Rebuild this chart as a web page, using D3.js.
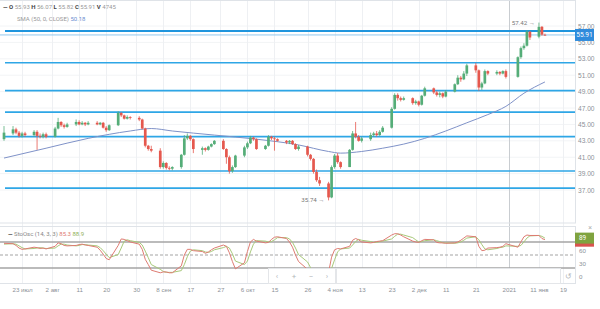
<!DOCTYPE html>
<html>
<head>
<meta charset="utf-8">
<script src="https://cdn.jsdelivr.net/npm/d3@7"></script>
<style>
  body { margin: 0; background: #fff; }
  svg { display: block; font-family: Roboto, "Noto Sans", sans-serif; }
  .price-axis text { fill: #8c9197; font-size: 6.6px; }
  .date-axis text { fill: #8c9197; font-size: 6.2px; }
  .stoch-axis text { fill: #8c9197; font-size: 6.2px; }
</style>
</head>
<body>
<svg id="chart" width="600" height="309"></svg>
<script>
// daily candles: date, open, high, low, close
var candles = [
  ["2020-07-17", 43.2, 44.8, 43.0, 44.0], ["2020-07-20", 43.9, 44.8, 43.7, 44.4], ["2020-07-21", 44.4, 44.6, 43.8, 44.0],
  ["2020-07-22", 44.0, 44.2, 43.4, 43.6], ["2020-07-23", 43.6, 44.1, 43.4, 43.9], ["2020-07-24", 43.9, 44.1, 43.5, 43.7],
  ["2020-07-27", 43.7, 44.3, 43.5, 44.1], ["2020-07-28", 44.1, 44.3, 41.9, 43.6], ["2020-07-29", 43.6, 43.9, 43.3, 43.5],
  ["2020-07-30", 43.5, 44.0, 43.3, 43.8], ["2020-07-31", 43.8, 44.0, 43.3, 43.5],
  ["2020-08-03", 43.5, 44.7, 43.4, 44.5], ["2020-08-04", 44.5, 45.8, 44.4, 45.3], ["2020-08-05", 45.3, 45.4, 44.7, 44.9],
  ["2020-08-06", 44.9, 45.1, 44.5, 44.7], ["2020-08-07", 44.7, 45.2, 44.6, 45.0], ["2020-08-10", 45.0, 45.6, 44.8, 45.3],
  ["2020-08-11", 45.3, 45.5, 44.9, 45.0], ["2020-08-12", 45.0, 45.4, 44.9, 45.2], ["2020-08-13", 45.2, 45.3, 44.8, 45.0],
  ["2020-08-14", 45.0, 45.4, 44.9, 45.2], ["2020-08-17", 45.2, 45.4, 44.9, 45.0], ["2020-08-18", 45.0, 45.3, 44.9, 45.2],
  ["2020-08-19", 45.2, 45.3, 44.5, 44.6], ["2020-08-20", 44.6, 44.8, 44.1, 44.3], ["2020-08-21", 44.3, 45.0, 44.2, 44.9],
  ["2020-08-24", 44.9, 46.6, 44.8, 46.4], ["2020-08-25", 46.4, 46.5, 45.9, 46.1], ["2020-08-26", 46.1, 46.2, 45.6, 45.7],
  ["2020-08-27", 45.7, 46.1, 45.6, 45.9], ["2020-08-28", 45.9, 46.0, 45.6, 45.8], ["2020-08-31", 45.8, 46.0, 45.4, 45.6],
  ["2020-09-01", 45.6, 45.7, 44.4, 44.5], ["2020-09-02", 44.5, 44.6, 42.2, 42.4], ["2020-09-03", 42.4, 42.5, 41.8, 42.0],
  ["2020-09-04", 42.0, 42.4, 41.6, 41.8], ["2020-09-07", 41.8, 42.1, 39.6, 39.8], ["2020-09-08", 39.8, 40.5, 39.6, 40.3],
  ["2020-09-09", 40.3, 40.4, 39.5, 39.7], ["2020-09-10", 39.7, 39.9, 39.4, 39.6], ["2020-09-11", 39.6, 39.9, 39.4, 39.8],
  ["2020-09-14", 39.8, 41.4, 39.6, 41.3], ["2020-09-15", 41.3, 43.7, 41.2, 43.3], ["2020-09-16", 43.3, 43.9, 43.1, 43.6],
  ["2020-09-17", 43.6, 43.7, 43.0, 43.2], ["2020-09-18", 43.2, 43.3, 41.5, 42.0], ["2020-09-21", 41.9, 42.3, 41.3, 42.1],
  ["2020-09-22", 42.1, 42.2, 41.7, 41.9], ["2020-09-23", 41.9, 42.4, 41.8, 42.3], ["2020-09-24", 42.3, 42.7, 42.2, 42.6],
  ["2020-09-25", 42.6, 43.1, 42.5, 43.0], ["2020-09-28", 43.0, 43.2, 41.9, 42.0], ["2020-09-29", 42.0, 42.1, 40.2, 41.0],
  ["2020-09-30", 41.0, 41.2, 39.0, 39.3],
  ["2020-10-01", 39.3, 40.0, 39.1, 39.8], ["2020-10-02", 39.8, 41.3, 39.7, 41.2], ["2020-10-05", 41.2, 42.4, 41.0, 42.2],
  ["2020-10-06", 42.2, 42.9, 42.0, 42.7], ["2020-10-07", 42.7, 43.6, 42.6, 43.4], ["2020-10-08", 43.4, 43.5, 43.0, 43.2],
  ["2020-10-09", 43.2, 43.3, 41.9, 42.0], ["2020-10-12", 42.0, 42.5, 41.9, 42.4], ["2020-10-13", 42.4, 43.7, 42.3, 43.5],
  ["2020-10-14", 43.5, 43.6, 43.1, 43.3], ["2020-10-15", 43.3, 43.5, 41.8, 43.2], ["2020-10-16", 43.2, 43.3, 42.9, 43.0],
  ["2020-10-19", 43.0, 43.1, 42.6, 42.8], ["2020-10-20", 42.8, 43.1, 42.6, 43.0], ["2020-10-21", 43.0, 43.1, 42.5, 42.6],
  ["2020-10-22", 42.6, 42.7, 41.9, 42.0], ["2020-10-23", 42.0, 42.5, 41.8, 42.3], ["2020-10-26", 42.3, 42.4, 41.1, 41.3],
  ["2020-10-27", 41.3, 41.4, 40.6, 40.8], ["2020-10-28", 40.8, 40.9, 39.0, 39.2], ["2020-10-29", 39.2, 39.5, 38.0, 38.2],
  ["2020-10-30", 38.2, 38.6, 37.5, 37.8],
  ["2020-11-02", 37.8, 38.0, 35.74, 36.1], ["2020-11-03", 36.1, 40.0, 36.0, 39.8], ["2020-11-04", 39.8, 41.4, 39.6, 41.2],
  ["2020-11-05", 41.2, 41.5, 40.2, 40.4], ["2020-11-06", 40.4, 40.5, 39.6, 39.8], ["2020-11-09", 39.8, 42.0, 39.8, 41.9],
  ["2020-11-10", 41.9, 44.2, 41.8, 43.9], ["2020-11-11", 43.9, 45.3, 43.3, 43.5], ["2020-11-12", 43.5, 43.7, 42.9, 43.0],
  ["2020-11-13", 43.0, 43.5, 42.8, 43.3], ["2020-11-16", 43.2, 44.0, 43.0, 43.7], ["2020-11-17", 43.7, 44.1, 43.5, 43.9],
  ["2020-11-18", 43.9, 44.2, 43.5, 43.7], ["2020-11-19", 43.7, 44.3, 43.6, 44.1], ["2020-11-20", 44.1, 44.8, 44.0, 44.6],
  ["2020-11-23", 44.6, 47.1, 44.5, 46.9], ["2020-11-24", 46.9, 48.8, 46.8, 48.6], ["2020-11-25", 48.6, 48.8, 47.9, 48.2],
  ["2020-11-26", 48.2, 48.4, 47.8, 48.0], ["2020-11-27", 48.0, 48.4, 47.9, 48.2], ["2020-11-30", 48.2, 48.3, 47.4, 47.6],
  ["2020-12-01", 47.6, 48.0, 47.4, 47.8], ["2020-12-02", 47.8, 47.9, 47.2, 47.4], ["2020-12-03", 47.4, 48.6, 47.3, 48.5],
  ["2020-12-04", 48.5, 49.6, 48.4, 49.4], ["2020-12-07", 49.4, 49.5, 48.7, 48.9], ["2020-12-08", 48.9, 49.1, 48.4, 48.6],
  ["2020-12-09", 48.6, 49.0, 48.3, 48.8], ["2020-12-10", 48.8, 48.9, 48.2, 48.4], ["2020-12-11", 48.4, 49.2, 48.3, 49.0],
  ["2020-12-14", 49.0, 50.0, 48.9, 49.9], ["2020-12-15", 49.9, 51.0, 49.8, 50.7], ["2020-12-16", 50.7, 50.9, 50.2, 50.5],
  ["2020-12-17", 50.5, 51.5, 50.4, 51.2], ["2020-12-18", 51.2, 52.4, 50.9, 52.2], ["2020-12-21", 52.2, 52.5, 51.3, 51.6],
  ["2020-12-22", 51.6, 51.7, 49.1, 49.5], ["2020-12-23", 49.5, 50.2, 49.2, 50.0], ["2020-12-24", 50.0, 51.7, 49.9, 51.5],
  ["2020-12-25", 51.5, 51.6, 51.0, 51.2], ["2020-12-28", 51.2, 51.6, 51.0, 51.4], ["2020-12-29", 51.4, 51.5, 51.0, 51.2],
  ["2020-12-30", 51.2, 51.6, 51.1, 51.5], ["2020-12-31", 51.5, 51.7, 50.6, 50.8],
  ["2021-01-04", 50.8, 53.3, 50.7, 53.2], ["2021-01-05", 53.2, 54.5, 53.0, 54.3], ["2021-01-06", 54.3, 54.9, 54.1, 54.6],
  ["2021-01-07", 54.6, 56.5, 54.5, 56.3], ["2021-01-08", 56.3, 56.4, 55.3, 55.6], ["2021-01-11", 55.7, 57.42, 55.5, 56.9],
  ["2021-01-12", 56.9, 57.0, 55.8, 55.95], ["2021-01-13", 55.93, 56.07, 55.82, 55.91]
];

// stochastic %K (red) and %D (green), one value per candle above
var stochK = [
  77, 76, 72, 66, 63, 64, 68, 67, 65, 66, 64,
  70, 78, 76, 72, 71, 72, 74, 75, 73, 72, 68, 61, 52, 42, 39, 72, 87, 86, 83, 80, 75,
  63, 40, 28, 15, 9, 11, 11, 9, 9, 25, 50, 63, 63, 60, 58, 54, 57, 62, 66, 73, 70, 55,
  35, 18, 32, 58, 80, 86, 82, 78, 79, 86, 91, 92, 88, 80, 68, 50, 35, 17, 10, 5, 3, 3,
  10, 45, 62, 65, 64, 70, 84, 88, 85, 80, 78, 79, 81, 82, 83, 96, 99, 99, 96, 92, 82,
  80, 79, 83, 86, 85, 79, 78, 78, 77, 78, 80, 84, 89, 94, 92, 70, 60, 61, 66, 67, 68, 70, 76,
  68, 80, 92, 96, 95, 95, 88, 85.3
];
var stochD = [
  75, 76, 75, 71, 67, 64, 65, 66, 67, 66, 65,
  66, 71, 75, 75, 73, 71, 72, 74, 74, 73, 71, 67, 60, 52, 44, 51, 66, 82, 85, 83, 79,
  73, 59, 44, 28, 17, 12, 10, 10, 10, 14, 28, 46, 59, 62, 60, 57, 56, 58, 62, 67, 70, 66,
  53, 36, 28, 36, 57, 75, 83, 82, 80, 81, 85, 90, 90, 87, 79, 66, 51, 34, 21, 11, 6, 4,
  5, 19, 39, 57, 64, 66, 73, 81, 86, 84, 81, 79, 79, 81, 82, 87, 93, 98, 98, 96, 90,
  85, 80, 81, 83, 85, 83, 81, 78, 78, 77, 78, 80, 84, 89, 92, 85, 74, 64, 62, 65, 67, 68, 71,
  70, 72, 80, 89, 94, 95, 93, 88.9
];

// SMA(50)
var smaPoints = [
  ["2020-07-17", 40.9], ["2020-07-31", 42.1], ["2020-08-14", 43.3], ["2020-08-28", 44.2], ["2020-09-04", 44.5],
  ["2020-09-11", 44.2], ["2020-09-25", 43.7], ["2020-10-09", 43.2], ["2020-10-23", 42.5], ["2020-11-02", 41.7],
  ["2020-11-06", 41.5], ["2020-11-13", 41.7], ["2020-11-20", 42.1], ["2020-11-27", 42.6], ["2020-12-04", 43.3],
  ["2020-12-11", 44.2], ["2020-12-18", 45.2], ["2020-12-25", 46.2], ["2020-12-31", 47.2], ["2021-01-06", 48.8],
  ["2021-01-13", 50.18]
];

// horizontal levels drawn by the user
var levels = [56.39, 52.52, 49.11, 46.51, 43.52, 39.32, 37.24];
var lastPrice = 55.91;

var priceTicks = [57, 55, 53, 51, 49, 47, 45, 43, 41, 39, 37];
var stochTicks = [60, 30, 0];
var stochLines = [80, 20];
var dateTicks = ["2020-07-23", "2020-08-02", "2020-08-11", "2020-08-20", "2020-08-30", "2020-09-08", "2020-09-17",
  "2020-09-27", "2020-10-06", "2020-10-15", "2020-10-26", "2020-11-04", "2020-11-13", "2020-11-23", "2020-12-02",
  "2020-12-11", "2020-12-21", "2021-01-01", "2021-01-11", "2021-01-19"];
var dateLabels = ["23 июл", "2 авг", "11", "20", "30", "8 сен", "17", "27", "6 окт", "15", "26", "4 ноя", "13", "23",
  "2 дек", "11", "21", "2021", "11 янв", "19"];

var parseDate = d3.timeParse("%Y-%m-%d");
var data = candles.map(function(d, i) {
  return { date: parseDate(d[0]), o: d[1], h: d[2], l: d[3], c: d[4], k: stochK[i], d: stochD[i] };
});
if (stochK.length !== candles.length || stochD.length !== candles.length) console.warn("stoch length mismatch");

var upColor = "#55ad78", downColor = "#e5584e";
var levelColor = "#2ea6e6";

var svg = d3.select("#chart");
var plotRight = 575, plotTop = 1, plotBottom = 223;
var stTop = 226, stBottom = 283;

var x = d3.scaleTime().domain([new Date(2020, 6, 15), new Date(2021, 0, 24)]).range([-2, 578]);
var y = d3.scaleLinear().domain([32.98, 60.05]).range([plotBottom, plotTop]);
var ys = d3.scaleLinear().domain([0, 100]).range([276.7, 233.3]);

svg.append("defs").append("clipPath").attr("id", "clip")
  .append("rect").attr("x", 0).attr("y", 0).attr("width", plotRight).attr("height", 309);

// horizontal price grid
svg.append("g").selectAll("line").data(priceTicks).enter().append("line")
  .attr("x1", 0).attr("x2", plotRight)
  .attr("y1", function(d) { return y(d); }).attr("y2", function(d) { return y(d); })
  .style("stroke", "#f2f4f6").style("stroke-width", 1);

// vertical grid
svg.append("g").selectAll("line").data(dateTicks).enter().append("line")
  .attr("x1", function(d) { return Math.round(x(parseDate(d))) + 0.5; })
  .attr("x2", function(d) { return Math.round(x(parseDate(d))) + 0.5; })
  .attr("y1", plotTop).attr("y2", stBottom)
  .style("stroke", function(d) { return d === "2021-01-01" ? "#c9cdd1" : "#eef0f3"; })
  .style("stroke-width", 1);

// panel borders
svg.append("rect").attr("x", -1).attr("y", plotTop - 0.5).attr("width", plotRight + 1.5).attr("height", plotBottom - plotTop + 0.5)
  .style("fill", "none").style("stroke", "#dfe3e8");
svg.append("rect").attr("x", -1).attr("y", stTop + 0.5).attr("width", plotRight + 1.5).attr("height", stBottom - stTop)
  .style("fill", "none").style("stroke", "#dfe3e8");

var price = svg.append("g").attr("clip-path", "url(#clip)");

// user levels
price.selectAll(".level").data(levels).enter().append("line")
  .attr("class", "level")
  .attr("x1", 5).attr("x2", plotRight)
  .attr("y1", function(d) { return y(d); }).attr("y2", function(d) { return y(d); })
  .style("stroke", function(d, i) { return i === 0 ? "#1f95dd" : levelColor; })
  .style("stroke-width", function(d, i) { return i === 0 ? 2 : 1.7; });

// last price line
price.append("line")
  .attr("x1", 0).attr("x2", plotRight)
  .attr("y1", y(lastPrice)).attr("y2", y(lastPrice))
  .style("stroke", "#93c8ee").style("stroke-width", 1);

// SMA
var smaLine = d3.line()
  .x(function(d) { return x(parseDate(d[0])); })
  .y(function(d) { return y(d[1]); })
  .curve(d3.curveMonotoneX);
price.append("path").datum(smaPoints)
  .attr("d", smaLine)
  .style("fill", "none").style("stroke", "#7f92c8").style("stroke-width", 1);

// candles
var candleG = price.selectAll(".candle").data(data).enter().append("g").attr("class", "candle");
candleG.append("line")
  .attr("x1", function(d) { return x(d.date); }).attr("x2", function(d) { return x(d.date); })
  .attr("y1", function(d) { return y(d.h); }).attr("y2", function(d) { return y(d.l); })
  .style("stroke", function(d) { return d.c >= d.o ? upColor : downColor; })
  .style("stroke-width", 0.8);
candleG.append("rect")
  .attr("x", function(d) { return x(d.date) - 1.35; })
  .attr("width", 2.7)
  .attr("y", function(d) { return y(Math.max(d.o, d.c)); })
  .attr("height", function(d) { return Math.max(0.8, Math.abs(y(d.o) - y(d.c))); })
  .style("fill", function(d) { return d.c >= d.o ? upColor : downColor; });

// high / low marks
var hi = data.reduce(function(a, b) { return b.h > a.h ? b : a; });
var lo = data.reduce(function(a, b) { return b.l < a.l ? b : a; });
svg.append("text").attr("x", x(hi.date) - 4).attr("y", y(hi.h) + 2)
  .attr("text-anchor", "end").style("font-size", "6.2px").style("fill", "#777")
  .text(hi.h.toFixed(2) + " →");
svg.append("text").attr("x", x(lo.date) - 4).attr("y", y(lo.l) + 2)
  .attr("text-anchor", "end").style("font-size", "6.2px").style("fill", "#777")
  .text(lo.l.toFixed(2) + " →");

// price axis
var pAxis = svg.append("g").attr("class", "price-axis")
  .attr("transform", "translate(" + plotRight + ",0)")
  .call(d3.axisRight(y).tickValues(priceTicks).tickSize(0).tickPadding(3).tickFormat(d3.format(".2f")));
pAxis.select(".domain").remove();

// last price tag
svg.append("rect").attr("x", plotRight).attr("y", y(lastPrice) - 6).attr("width", 19).attr("height", 12)
  .style("fill", "#2f8bdc");
svg.append("text").attr("x", plotRight + 9.5).attr("y", y(lastPrice) + 2.3)
  .attr("text-anchor", "middle").style("font-size", "6.6px").style("fill", "#fff")
  .text(lastPrice.toFixed(2));

// header legend
var head = svg.append("text").attr("x", 3).attr("y", 9).style("font-size", "6px");
head.append("tspan").style("font-weight", 700).style("fill", "#333").text("— ");
[["O", "55.93"], ["H", "56.07"], ["L", "55.82"], ["C", "55.91"], ["V", "4745"]].forEach(function(p) {
  head.append("tspan").style("font-weight", 700).style("fill", "#444").text(p[0] + " ");
  head.append("tspan").style("fill", "#999").text(p[1] + "  ");
});
var smaText = svg.append("text").attr("x", 17).attr("y", 21).style("font-size", "6px");
smaText.append("tspan").style("fill", "#999").text("SMA (50, 0, CLOSE) ");
smaText.append("tspan").style("fill", "#6d8fd0").text("50.18");

// stochastic panel
var st = svg.append("g").attr("clip-path", "url(#clip)");
st.selectAll(".stline").data(stochLines).enter().append("line")
  .attr("x1", 0).attr("x2", plotRight)
  .attr("y1", function(d) { return ys(d); }).attr("y2", function(d) { return ys(d); })
  .style("stroke", "#a4a4a4").style("stroke-width", 1.3);
st.append("line").attr("x1", 0).attr("x2", plotRight).attr("y1", ys(50)).attr("y2", ys(50))
  .style("stroke", "#999").style("stroke-width", 0.9).style("stroke-dasharray", "3,2");

var kLine = d3.line().x(function(d) { return x(d.date); }).y(function(d) { return ys(d.k); });
var dLine = d3.line().x(function(d) { return x(d.date); }).y(function(d) { return ys(d.d); });
st.append("path").datum(data).attr("d", dLine)
  .style("fill", "none").style("stroke", "#a8c97a").style("stroke-width", 1);
st.append("path").datum(data).attr("d", kLine)
  .style("fill", "none").style("stroke", "#de7b72").style("stroke-width", 1);

var sTitle = svg.append("text").attr("x", 8).attr("y", 236).style("font-size", "6px");
sTitle.append("tspan").style("font-weight", 700).style("fill", "#333").text("— ");
sTitle.append("tspan").style("fill", "#888").text("StoOsc (14, 3, 3) ");
sTitle.append("tspan").style("fill", "#de7b72").text("85.3 ");
sTitle.append("tspan").style("fill", "#8fb15a").text("88.9");

var sAxis = svg.append("g").attr("class", "stoch-axis")
  .attr("transform", "translate(" + plotRight + ",0)")
  .call(d3.axisRight(ys).tickValues(stochTicks).tickSize(0).tickPadding(4));
sAxis.select(".domain").remove();

// last value tags
svg.append("rect").attr("x", plotRight).attr("y", ys(85.3) - 4).attr("width", 19).attr("height", 11)
  .style("fill", "#d9534f");
svg.append("rect").attr("x", plotRight).attr("y", ys(88.9) - 5.5).attr("width", 19).attr("height", 11)
  .style("fill", "#7fa33f");
svg.append("text").attr("x", plotRight + 4).attr("y", ys(88.9) + 2.2)
  .style("font-size", "6.4px").style("fill", "#fff").text("89");
svg.append("text").attr("x", 590).attr("y", 230).attr("text-anchor", "middle")
  .style("font-size", "7px").style("fill", "#b0b0b0").text("×");

// zoom toolbar overlay
var tb = svg.append("g");
tb.append("rect").attr("x", 268.5).attr("y", 268.5).attr("width", 67).attr("height", 15)
  .style("fill", "#fff").style("stroke", "#e4e6e9");
tb.append("rect").attr("x", 336.5).attr("y", 268.5).attr("width", 224).attr("height", 15)
  .style("fill", "#fff").style("stroke", "#e4e6e9");
[["‹", 277], ["+", 294], ["−", 311], ["›", 327]].forEach(function(b) {
  tb.append("text").attr("x", b[1]).attr("y", 279).attr("text-anchor", "middle")
    .style("font-size", "8px").style("fill", "#b5b8bc").text(b[0]);
});
tb.append("text").attr("x", 568).attr("y", 279).attr("text-anchor", "middle")
  .style("font-size", "8px").style("fill", "#b5b8bc").text("↺");

// date axis
var dAxis = svg.append("g").attr("class", "date-axis")
  .attr("transform", "translate(0,285)")
  .call(d3.axisBottom(x).tickValues(dateTicks.map(parseDate)).tickSize(0).tickPadding(3)
    .tickFormat(function(d, i) { return dateLabels[i]; }));
dAxis.select(".domain").remove();
</script>
</body>
</html>
